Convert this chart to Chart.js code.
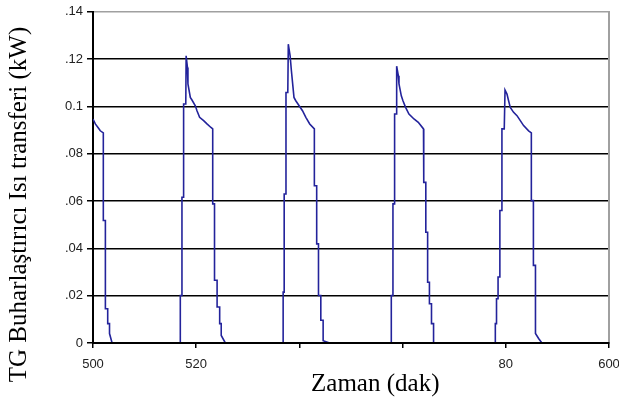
<!DOCTYPE html>
<html>
<head>
<meta charset="utf-8">
<script src="https://cdn.jsdelivr.net/npm/chart.js@4/dist/chart.umd.min.js"></script>
<style>
  html, body { margin: 0; padding: 0; background: #fff; }
  canvas { display: block; }
</style>
</head>
<body>
<canvas id="c" width="619" height="398"></canvas>
<script>
// ---- data ----
const timeMin = [
  // cycle 1 (tail)
  500, 500.45, 500.97, 501.41, 502.0, 502.0, 502.4, 502.4, 502.85, 502.85, 503.2, 503.2, 503.7,
  // cycle 2
  516.92, 516.92, 517.24, 517.24, 517.56, 517.56, 517.98, 518.05, 518.3, 518.4, 518.86, 519.18, 519.83, 520.15, 520.66, 521.44, 522.09, 522.86, 523.2, 523.2, 523.55, 523.55, 524.05, 524.05, 524.55, 524.55, 524.85, 524.85, 525.65,
  // cycle 3
  536.85, 536.85, 537.05, 537.05, 537.4, 537.4, 537.75, 537.85, 538.2, 538.45, 538.95, 539.3, 539.95, 540.6, 541.25, 542.0, 542.9, 542.9, 543.35, 543.35, 543.7, 543.7, 544.15, 544.15, 544.6, 544.6, 545.85,
  // cycle 4
  557.81, 557.81, 558.13, 558.13, 558.45, 558.45, 558.75, 558.85, 559.17, 559.3, 559.75, 560.07, 560.58, 561.23, 562.2, 563.04, 564.05, 564.1, 564.5, 564.5, 564.85, 564.85, 565.2, 565.2, 565.6, 565.6, 566.0, 566.0,
  // cycle 5
  577.97, 577.97, 578.2, 578.2, 578.5, 578.5, 578.85, 578.85, 579.25, 579.25, 579.7, 579.85, 580.23, 580.54, 580.87, 581.51, 582.17, 582.81, 583.45, 584.42, 584.95, 584.95, 585.35, 585.35, 585.75, 585.75, 586.36, 587.0, 600
];
const heatKW = [
  0.0947, 0.0926, 0.0911, 0.0897, 0.0888, 0.0518, 0.0518, 0.0145, 0.0145, 0.0082, 0.0082, 0.004, 0,
  0, 0.0201, 0.0201, 0.0616, 0.0616, 0.101, 0.101, 0.1214, 0.1165, 0.1095, 0.1038, 0.1027, 0.1003, 0.0982, 0.0954, 0.094, 0.0926, 0.0911, 0.0905, 0.0588, 0.0588, 0.0265, 0.0265, 0.0152, 0.0152, 0.0082, 0.0082, 0.0032, 0,
  0, 0.0215, 0.0215, 0.063, 0.063, 0.1059, 0.1059, 0.1263, 0.1214, 0.1151, 0.1038, 0.1024, 0.1003, 0.0982, 0.0954, 0.0926, 0.0905, 0.0665, 0.0665, 0.0419, 0.0419, 0.0201, 0.0201, 0.0096, 0.0096, 0.001, 0,
  0, 0.0201, 0.0201, 0.0588, 0.0588, 0.0968, 0.0968, 0.117, 0.113, 0.1095, 0.1045, 0.1024, 0.0996, 0.0968, 0.0947, 0.0933, 0.0905, 0.0679, 0.0679, 0.0468, 0.0468, 0.0257, 0.0257, 0.0166, 0.0166, 0.0082, 0.0082, 0,
  0, 0.0082, 0.0082, 0.0187, 0.0187, 0.0279, 0.0279, 0.056, 0.056, 0.0905, 0.0905, 0.1069, 0.1052, 0.1024, 0.0996, 0.0975, 0.0961, 0.094, 0.0919, 0.0897, 0.0888, 0.0602, 0.0602, 0.0328, 0.0328, 0.004, 0.0019, 0, 0
];
const xTickLabels = ['500', '520', '', '', '80', '600'];
const yTickLabels = ['0', '.02', '.04', '.06', '.08', '0.1', '.12', '.14'];
const yAxisTitle = 'TG Buharlaştırıcı Isı transferi (kW)';
const xAxisTitle = 'Zaman (dak)';

// ---- chart ----
const points = timeMin.map((t, i) => ({ x: t, y: heatKW[i] }));
const LINE = '#23239b';

const xTitlePlugin = {
  id: 'xTitle',
  afterDraw(chart) {
    const { ctx, chartArea: a } = chart;
    ctx.save();
    ctx.font = '25px "Liberation Serif"';
    ctx.fillStyle = '#000';
    ctx.textAlign = 'center';
    ctx.textBaseline = 'alphabetic';
    ctx.fillText(xAxisTitle, a.left + (a.right - a.left) * 0.547, a.bottom + 48);
    ctx.restore();
  }
};

new Chart(document.getElementById('c'), {
  type: 'line',
  data: {
    datasets: [{
      data: points,
      borderColor: LINE,
      borderWidth: 1.6,
      pointRadius: 0,
      tension: 0,
      fill: false,
      segment: {
        // the run along the zero line sits under the black x axis in the reference
        borderColor: (c) => (c.p0.parsed.y === 0 && c.p1.parsed.y === 0) ? 'rgba(0,0,0,0)' : LINE
      }
    }]
  },
  options: {
    responsive: false,
    animation: false,
    devicePixelRatio: 1,
    layout: { padding: { top: 11, left: 0, right: 0, bottom: 0 } },
    plugins: {
      legend: { display: false },
      tooltip: { enabled: false },
      title: {
        display: true,
        text: yAxisTitle,
        position: 'left',
        fullSize: true,
        align: 'center',
        color: '#000',
        font: { family: 'Liberation Serif', size: 25, weight: 'normal', lineHeight: 1.2 },
        padding: { top: 4, bottom: 0 }
      }
    },
    scales: {
      x: {
        type: 'linear',
        min: 500, max: 600,
        ticks: {
          stepSize: 20,
          autoSkip: false,
          maxRotation: 0,
          padding: 9,
          color: '#222',
          font: { family: 'Liberation Sans', size: 13 },
          callback: (v, i) => xTickLabels[i]
        },
        grid: { drawOnChartArea: false, tickLength: 5, tickColor: '#000', lineWidth: 1.5 },
        border: { color: '#000', width: 2, z: 2 },
        afterFit: (s) => { s.height = 55; s.paddingRight = 10; }
      },
      y: {
        min: 0, max: 0.14,
        ticks: {
          stepSize: 0.02,
          padding: 4,
          color: '#222',
          font: { family: 'Liberation Sans', size: 13 },
          callback: (v, i) => yTickLabels[i]
        },
        grid: {
          color: (c) => c.index === 7 ? '#a0a0a0' : '#000',
          tickColor: '#000',
          lineWidth: 1.5,
          tickLength: 6
        },
        border: { color: '#000', width: 2 },
        afterFit: (s) => { s.width = 59; }
      },
      yR: {
        type: 'linear',
        position: 'right',
        min: 0, max: 0.14,
        ticks: { display: false },
        grid: { display: false, drawTicks: false },
        border: { color: '#a0a0a0', width: 2 },
        afterFit: (s) => { s.width = 0; }
      }
    }
  },
  plugins: [xTitlePlugin]
});
</script>
</body>
</html>
